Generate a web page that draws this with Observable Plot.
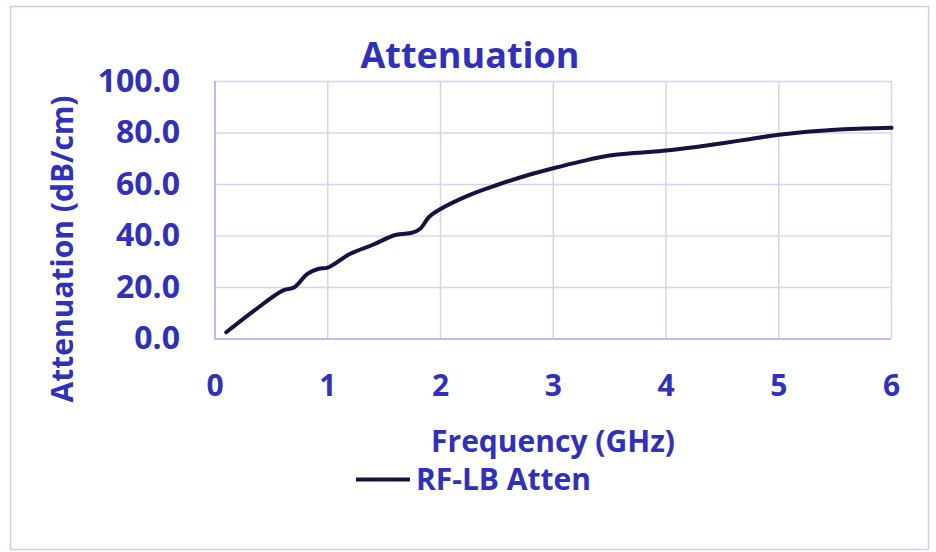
<!DOCTYPE html>
<html>
<head>
<meta charset="utf-8">
<script src="https://cdn.jsdelivr.net/npm/d3@7"></script>
<script src="https://cdn.jsdelivr.net/npm/@observablehq/plot@0.6"></script>
<style>
  html, body { margin: 0; padding: 0; background: #fff; }
  #chart { width: 936px; height: 552px; }
</style>
</head>
<body>
<div id="chart"></div>
<script>
// Data
const frequency = [0.1, 0.35, 0.6, 0.7, 0.82, 0.92, 1.0, 1.2, 1.4, 1.6, 1.75, 1.82, 1.9, 2.0, 2.25, 2.5, 2.75, 3.0, 3.25, 3.5, 3.75, 4.0, 4.25, 4.5, 4.75, 5.0, 5.25, 5.5, 5.75, 6.0];
const attenuation = [2.6, 11.1, 18.8, 20.0, 25.3, 27.3, 27.7, 33.1, 36.6, 40.4, 41.3, 42.8, 47.5, 50.5, 55.8, 59.8, 63.3, 66.3, 69.0, 71.3, 72.3, 73.2, 74.5, 76.0, 77.7, 79.3, 80.5, 81.3, 81.7, 82.0];
const xTicks = [0, 1, 2, 3, 4, 5, 6];
const yTicks = [0, 20, 40, 60, 80, 100];
const seriesName = "RF-LB Atten";
const titleText = "Attenuation";
const xLabel = "Frequency (GHz)";
const yLabel = "Attenuation (dB/cm)";

const data = frequency.map((f, i) => ({f, v: attenuation[i]}));

const textColor = "#3030b8";
const gridColor = "#d4d4f2";
const axisColor = "#b0b0e8";
const lineColor = "#16113f";
const font = "'Open Sans', sans-serif";

const W = 936, H = 552;
const mL = 214.5, mR = 45, mT = 81, mB = 213.5;

const plot = Plot.plot({
  width: W,
  height: H,
  marginLeft: mL,
  marginRight: mR,
  marginTop: mT,
  marginBottom: mB,
  style: {fontFamily: font, fontWeight: "bold", color: textColor, background: "transparent", overflow: "visible"},
  x: {domain: [0, 6], ticks: xTicks},
  y: {domain: [0, 100], ticks: yTicks},
  marks: [
    Plot.gridX(xTicks, {stroke: gridColor, strokeOpacity: 1, strokeWidth: 1.5}),
    Plot.gridY(yTicks, {stroke: gridColor, strokeOpacity: 1, strokeWidth: 1.5}),
    Plot.ruleX([0], {stroke: axisColor, strokeWidth: 1.5}),
    Plot.ruleY([0], {stroke: axisColor, strokeWidth: 1.5}),
    Plot.axisX(xTicks, {tickSize: 0, tickPadding: 36, fontSize: 30, fill: textColor, label: null}),
    Plot.axisY(yTicks, {tickSize: 0, tickPadding: 35, fontSize: 32, fill: textColor, label: null, tickFormat: d3.format(".1f")}),
    Plot.line(data, {x: "f", y: "v", stroke: lineColor, strokeWidth: 4, curve: "catmull-rom"})
  ]
});

document.getElementById("chart").appendChild(plot);

const svg = d3.select(plot);
// outer border
svg.insert("rect", ":first-child")
  .attr("x", 10.5).attr("y", 6.5).attr("width", 918).attr("height", 543)
  .attr("fill", "#fff").attr("stroke", "#cdcdf0").attr("stroke-width", 1.5);

const texts = svg.append("g")
  .attr("font-family", font).attr("font-weight", "bold").attr("fill", textColor);

texts.append("text").attr("x", 470).attr("y", 67.5).attr("text-anchor", "middle")
  .attr("font-size", 36).text(titleText);

texts.append("text").attr("x", 553).attr("y", 452).attr("text-anchor", "middle")
  .attr("font-size", 30).text(xLabel);

texts.append("text").attr("transform", "translate(73,249) rotate(-90)").attr("text-anchor", "middle")
  .attr("font-size", 30).text(yLabel);

// legend
svg.append("line").attr("x1", 356).attr("x2", 410).attr("y1", 479.5).attr("y2", 479.5)
  .attr("stroke", lineColor).attr("stroke-width", 4);
texts.append("text").attr("x", 416).attr("y", 490).attr("text-anchor", "start")
  .attr("font-size", 30).text(seriesName);
</script>
</body>
</html>
